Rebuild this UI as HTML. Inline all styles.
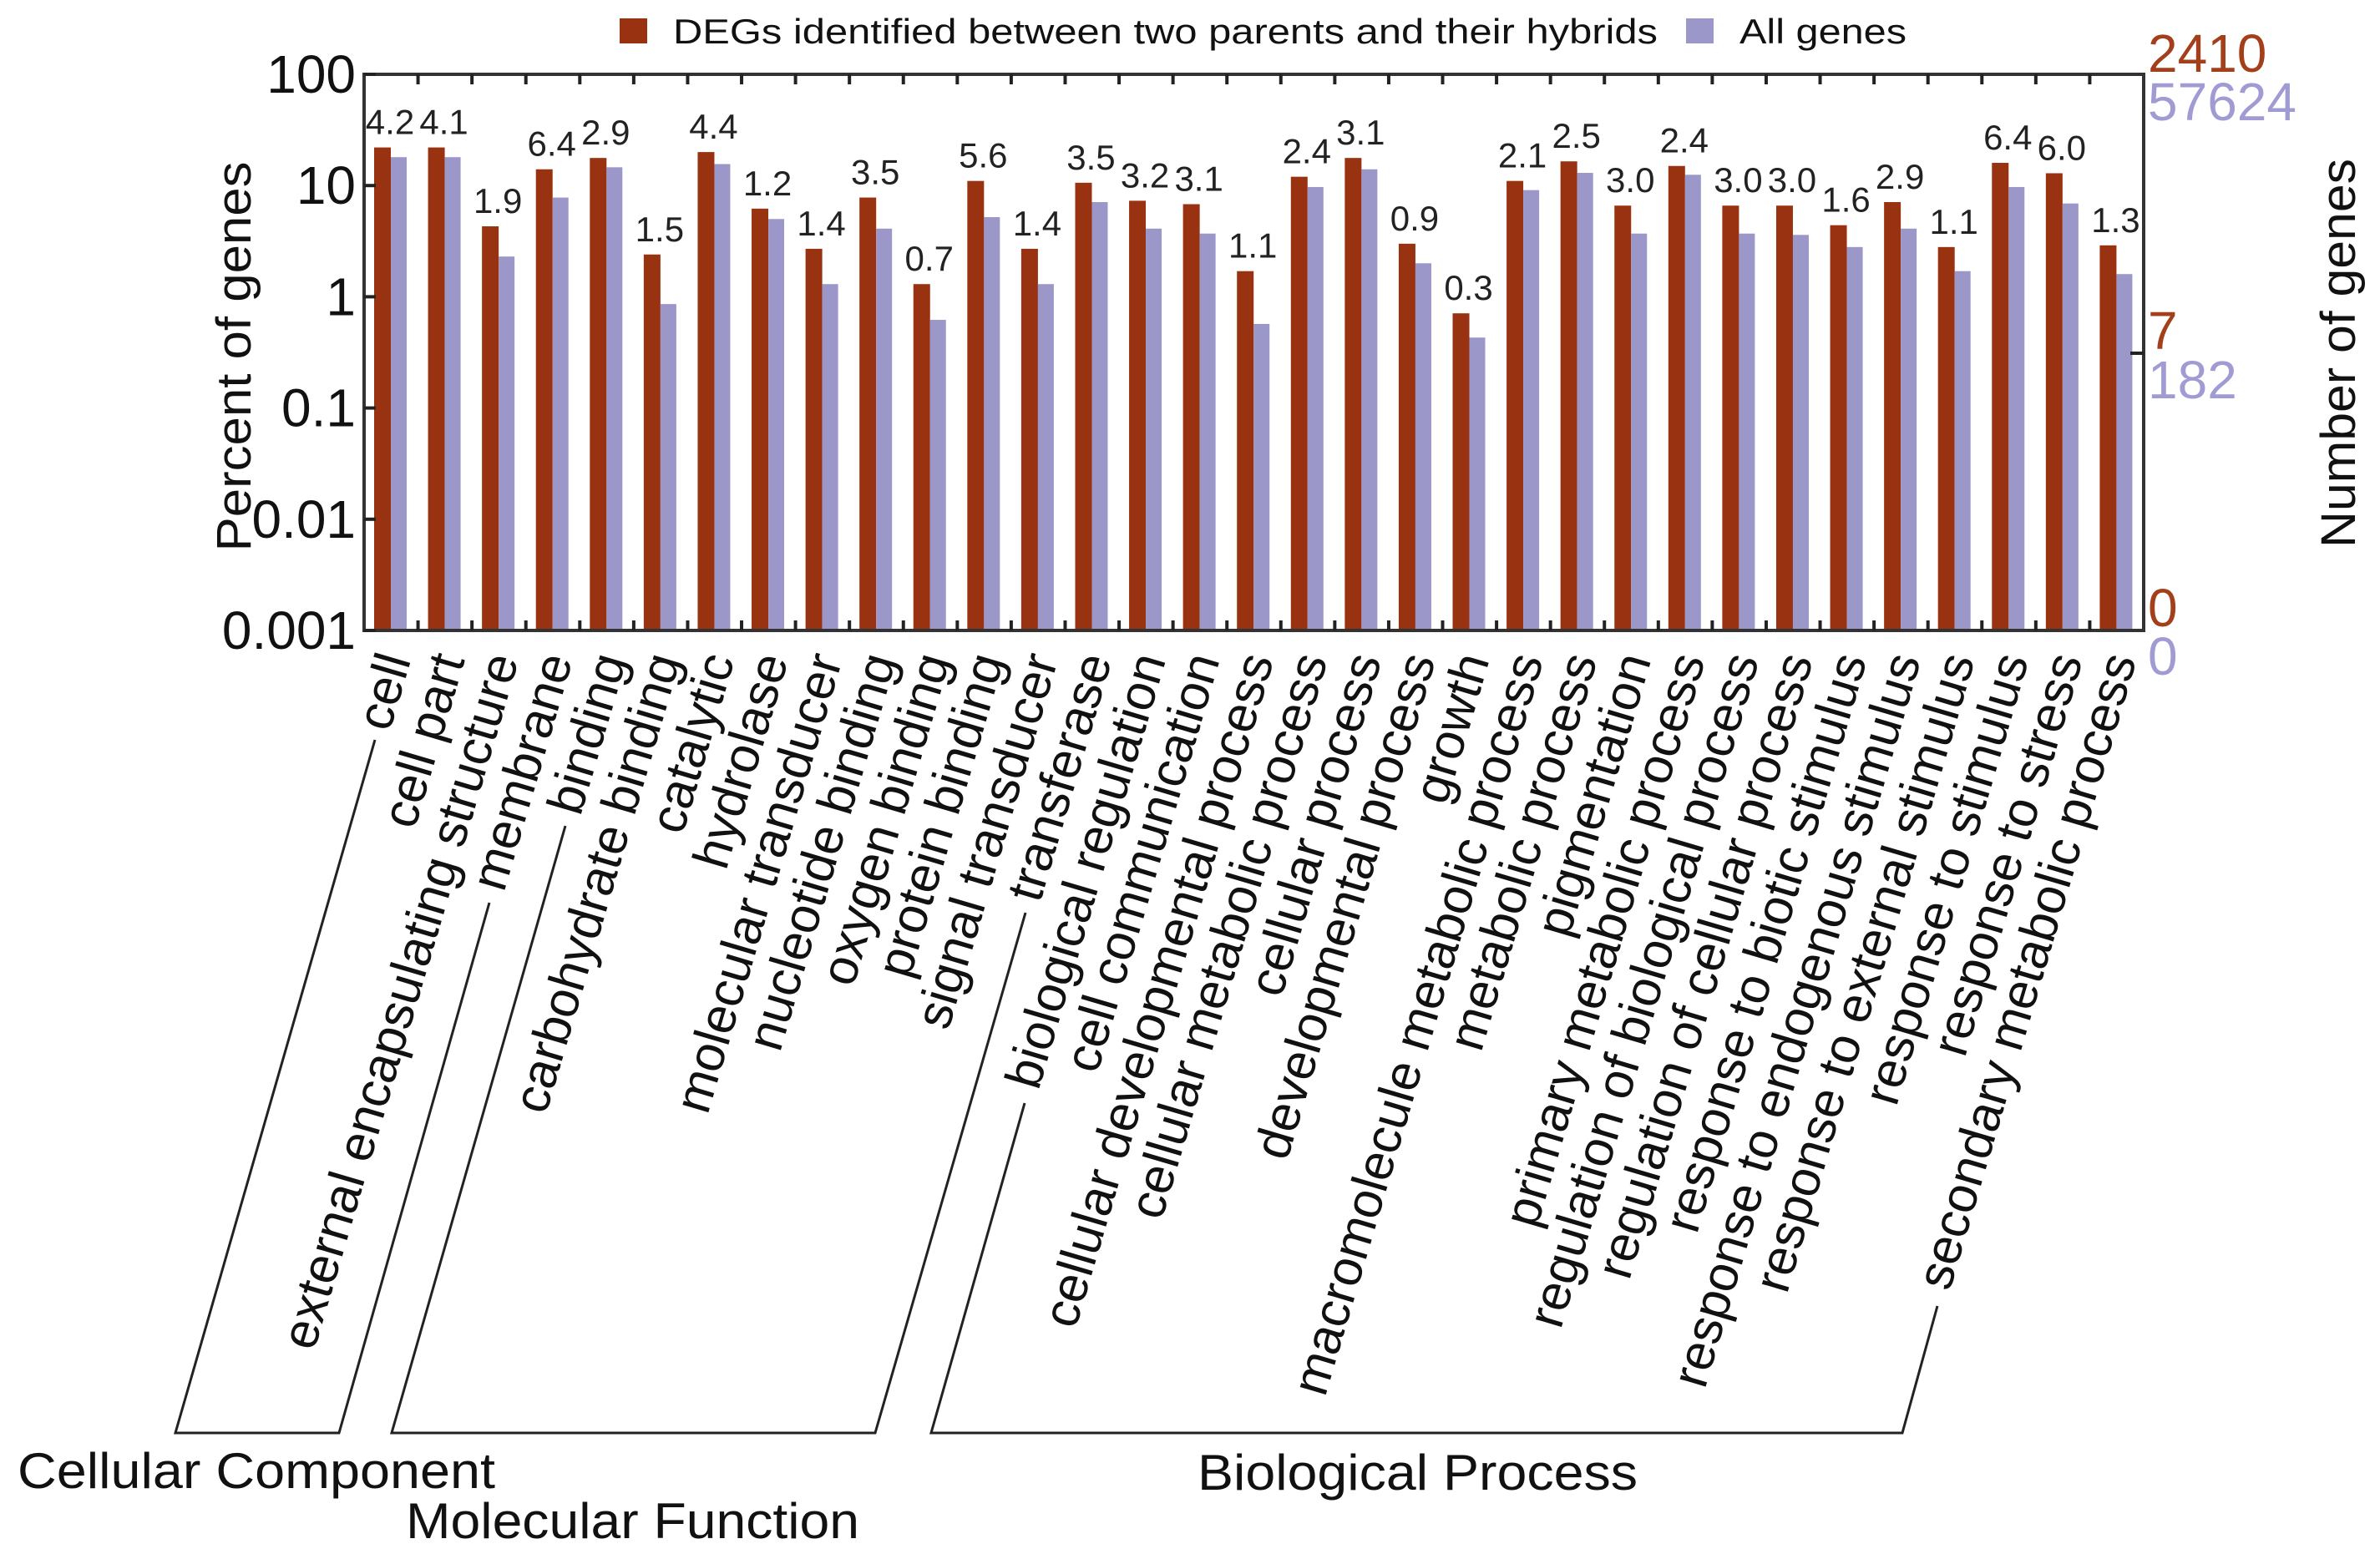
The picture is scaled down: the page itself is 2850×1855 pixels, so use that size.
<!DOCTYPE html>
<html><head><meta charset="utf-8"><style>
html,body{margin:0;padding:0;background:#fff}
svg{display:block;font-family:"Liberation Sans",sans-serif}
</style></head><body>
<svg id="chart" width="2850" height="1855" viewBox="0 0 2850 1855" xmlns="http://www.w3.org/2000/svg">
<g id="legend">
  <rect x="742" y="22" width="33" height="30" fill="#993210"/>
  <text x="806" y="52" font-size="42" textLength="1179" lengthAdjust="spacingAndGlyphs" fill="#111">DEGs identified between two parents and their hybrids</text>
  <rect x="2019" y="22" width="33" height="30" fill="#9b97c9"/>
  <text x="2083" y="52" font-size="42" textLength="200" lengthAdjust="spacingAndGlyphs" fill="#111">All genes</text>
</g>
<g id="bars"></g>
<g id="vlabels"></g>
<g id="axes"></g>
<g id="xlabels"></g>
<g id="brackets">
  <polyline points="449,886 210,1716 406,1716 586,1081" fill="none" stroke="#222" stroke-width="3"/>
  <polyline points="677,989 469,1716 1048,1716 1228,1093" fill="none" stroke="#222" stroke-width="3"/>
  <polyline points="1227,1321 1115,1716 2278,1716 2320,1564" fill="none" stroke="#222" stroke-width="3"/>
  <text x="21" y="1782" font-size="60" textLength="572" lengthAdjust="spacingAndGlyphs" fill="#111">Cellular Component</text>
  <text x="486" y="1842" font-size="60" textLength="543" lengthAdjust="spacingAndGlyphs" fill="#111">Molecular Function</text>
  <text x="1434" y="1784" font-size="60" textLength="527" lengthAdjust="spacingAndGlyphs" fill="#111">Biological Process</text>
</g>
<text transform="translate(300,427) rotate(-90)" text-anchor="middle" font-size="58" textLength="467" lengthAdjust="spacingAndGlyphs" fill="#111">Percent of genes</text>
<text transform="translate(2820,423) rotate(-90)" text-anchor="middle" font-size="58" textLength="466" lengthAdjust="spacingAndGlyphs" fill="#111">Number of genes</text>
<g font-size="64">
  <text x="2572" y="86" fill="#a33f1a">2410</text>
  <text x="2572" y="144" fill="#a09bd2">57624</text>
  <text x="2572" y="418" fill="#a33f1a">7</text>
  <text x="2572" y="477" fill="#a09bd2">182</text>
  <text x="2572" y="750" fill="#a33f1a">0</text>
  <text x="2572" y="808" fill="#a09bd2">0</text>
</g>
</svg>
<script>
const categories = ["cell","cell part","external encapsulating structure","membrane","binding","carbohydrate binding","catalytic","hydrolase","molecular transducer","nucleotide binding","oxygen binding","protein binding","signal transducer","transferase","biological regulation","cell communication","cellular developmental process","cellular metabolic process","cellular process","developmental process","growth","macromolecule metabolic process","metabolic process","pigmentation","primary metabolic process","regulation of biological process","regulation of cellular process","response to biotic stimulus","response to endogenous stimulus","response to external stimulus","response to stimulus","response to stress","secondary metabolic process"];
const degPercent = [22,22,4.3,14,17.7,2.4,20,6.2,2.7,7.8,1.3,11,2.7,10.6,7.3,6.8,1.7,12,17.7,3.0,0.71,11,16.5,6.6,15,6.6,6.6,4.4,7.1,2.8,16,12.9,2.9];
const allPercent = [18,18,2.3,7.8,14.6,0.86,15.6,5.0,1.3,4.1,0.62,5.2,1.3,7.1,4.1,3.7,0.57,9.7,14,2.0,0.43,9.1,13,3.7,12.5,3.7,3.6,2.8,4.1,1.7,9.7,6.9,1.6];
const valueLabels = ["4.2","4.1","1.9","6.4","2.9","1.5","4.4","1.2","1.4","3.5","0.7","5.6","1.4","3.5","3.2","3.1","1.1","2.4","3.1","0.9","0.3","2.1","2.5","3.0","2.4","3.0","3.0","1.6","2.9","1.1","6.4","6.0","1.3"];
const yTicks = [100,10,1,0.1,0.01,0.001];
const yTickLabels = ["100","10","1","0.1","0.01","0.001"];

const NS = "http://www.w3.org/2000/svg";
const L = 436, R = 2567, T = 89, B = 755;
const slot = (R - L) / categories.length;
function xs(i){ return L + i*slot; }
function ys(v){ return T + (2 - Math.log10(v)) * (B - T) / 5; }
function mk(tag, attrs, parent){ const e=document.createElementNS(NS,tag); for(const k in attrs) e.setAttribute(k,attrs[k]); parent.appendChild(e); return e; }

const gb = document.getElementById('bars');
const gv = document.getElementById('vlabels');
const gx = document.getElementById('xlabels');
const ga = document.getElementById('axes');

categories.forEach((c,i)=>{
  const x0 = xs(i);
  const r = mk('rect',{x:x0+12,y:ys(degPercent[i]),width:20,height:B-ys(degPercent[i]),fill:'#993210'},gb);
  
  
  const p = mk('rect',{x:x0+32,y:ys(allPercent[i]),width:19,height:B-ys(allPercent[i]),fill:'#9b97c9'},gb);
  
  
  const t = mk('text',{x:x0+31,y:ys(degPercent[i])-16,'text-anchor':'middle','font-size':42,fill:'#222'},gv);
  t.textContent = valueLabels[i];
  
  
  const cx = x0 + slot/2 + 24;
  const xl = mk('text',{transform:'translate('+cx+',790) rotate(-73.5)','text-anchor':'end','font-size':61,fill:'#111'},gx);
  xl.textContent = c;
  
  
});

const fr = mk('rect',{x:L,y:T,width:R-L,height:B-T,fill:'none',stroke:'#333','stroke-width':4},ga);


for(let i=1;i<categories.length;i++){
  const x=xs(i);
  const t1 = mk('line',{x1:x,y1:T,x2:x,y2:T+12,stroke:'#222','stroke-width':4},ga);
  
  
  const t2 = mk('line',{x1:x,y1:B,x2:x,y2:B-12,stroke:'#222','stroke-width':4},ga);
  
  
}
yTicks.forEach((v,i)=>{
  const y=ys(v);
  const tk = mk('line',{x1:L,y1:y,x2:L+14,y2:y,stroke:'#222','stroke-width':4},ga);
  
  
  const tl = mk('text',{x:L-10,y:y+22,'text-anchor':'end','font-size':64,fill:'#111'},ga);
  tl.textContent = yTickLabels[i];
  
  
});
const rt = mk('line',{x1:R,y1:423,x2:R-16,y2:423,stroke:'#222','stroke-width':4},ga);


</script>
</body></html>
